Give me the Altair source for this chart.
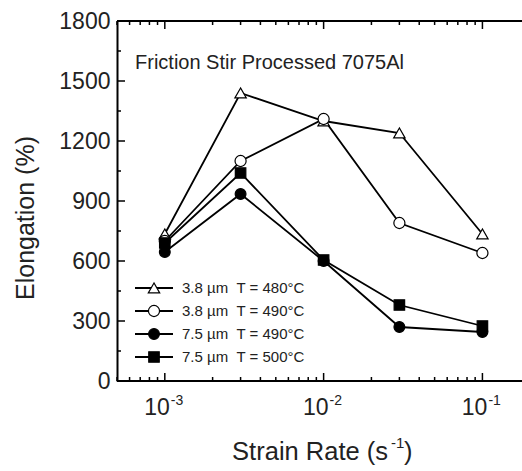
import altair as alt
import pandas as pd

# ---- data ----
strain_rate = [1e-3, 3e-3, 1e-2, 3e-2, 1e-1]
series_names = ["3.8 µm\u00a0\u00a0T = 480°C", "3.8 µm\u00a0\u00a0T = 490°C",
                "7.5 µm\u00a0\u00a0T = 490°C", "7.5 µm\u00a0\u00a0T = 500°C"]
elong_38_480 = [735, 1440, 1300, 1240, 735]
elong_38_490 = [700, 1100, 1310, 790, 640]
elong_75_490 = [645, 935, 600, 270, 245]
elong_75_500 = [690, 1040, 605, 380, 275]

x_major = [1e-3, 1e-2, 1e-1]
x_minor = [5e-4, 6e-4, 7e-4, 8e-4, 9e-4,
           2e-3, 3e-3, 4e-3, 5e-3, 6e-3, 7e-3, 8e-3, 9e-3,
           2e-2, 3e-2, 4e-2, 5e-2, 6e-2, 7e-2, 8e-2, 9e-2]
x_exponents = ["-3", "-2", "-1"]
y_major = [0, 300, 600, 900, 1200, 1500, 1800]
y_minor = [150, 450, 750, 1050, 1350, 1650]

shapes = ["triangle-up", "circle", "circle", "square"]
fills = ["white", "white", "black", "black"]
sizes = [130, 110, 95, 95]

W, H = 405, 360
FONT = "Liberation Sans"

rows = []
for name, vals in zip(series_names,
                      [elong_38_480, elong_38_490, elong_75_490, elong_75_500]):
    for xv, yv in zip(strain_rate, vals):
        rows.append({"series": name, "rate": xv, "elong": yv})
df = pd.DataFrame(rows)

xscale = alt.Scale(type="log", domain=[5e-4, 0.1775], nice=False)
yscale = alt.Scale(domain=[0, 1800], nice=False)
shape_scale = alt.Scale(domain=series_names, range=shapes)
fill_scale = alt.Scale(domain=series_names, range=fills)
size_scale = alt.Scale(domain=series_names, range=sizes)

X = alt.X("rate:Q", scale=xscale, axis=None)
Y = alt.Y("elong:Q", scale=yscale,
          axis=alt.Axis(values=y_major, format="d", ticks=False, tickSize=0,
                        grid=False, domain=True, domainColor="black",
                        domainWidth=2, labelFontSize=23, labelFont=FONT,
                        labelColor="#222", labelPadding=7, title=None))

lines = alt.Chart(df).mark_line(color="black", strokeWidth=1.8).encode(
    x=X, y=Y, detail="series:N")

points = alt.Chart(df).mark_point(filled=False, stroke="black", strokeWidth=1.2,
                                  opacity=1).encode(
    x=X, y=Y,
    shape=alt.Shape("series:N", scale=shape_scale, legend=None),
    fill=alt.Fill("series:N", scale=fill_scale, legend=None),
    size=alt.Size("series:N", scale=size_scale, legend=None),
)

# frame lines (top and bottom)
top_rule = alt.Chart(pd.DataFrame({"a": [0]})).mark_rule(
    color="black", strokeWidth=2).encode(
    x=alt.value(0), x2=alt.value(W), y=alt.value(0))
bottom_rule = alt.Chart(pd.DataFrame({"a": [0]})).mark_rule(
    color="black", strokeWidth=2).encode(
    x=alt.value(0), x2=alt.value(W), y=alt.value(H))

# inward ticks
xmaj_df = pd.DataFrame({"rate": x_major, "exp": x_exponents})
xmin_df = pd.DataFrame({"rate": x_minor})
ymaj_df = pd.DataFrame({"elong": y_major})
ymin_df = pd.DataFrame({"elong": y_minor})

def xticks(d, length):
    b = alt.Chart(d).mark_rule(color="black", strokeWidth=1.5).encode(
        x=X, y=alt.value(H), y2=alt.value(H - length))
    t = alt.Chart(d).mark_rule(color="black", strokeWidth=1.5).encode(
        x=X, y=alt.value(0), y2=alt.value(length))
    return b + t

def yticks(d, length):
    return alt.Chart(d).mark_rule(color="black", strokeWidth=1.5).encode(
        y=Y, x=alt.value(0), x2=alt.value(length))

ticks = xticks(xmaj_df, 8) + xticks(xmin_df, 4) + yticks(ymaj_df, 8) + yticks(ymin_df, 4)

# x tick labels "10" with superscript exponent
xlab_base = alt.Chart(xmaj_df).mark_text(
    text="10", align="right", baseline="alphabetic", fontSize=23, font=FONT,
    color="#222", dx=5).encode(x=X, y=alt.value(H + 34))
xlab_exp = alt.Chart(xmaj_df).mark_text(
    align="left", baseline="alphabetic", fontSize=14, font=FONT,
    color="#222", dx=6).encode(x=X, y=alt.value(H + 24), text="exp:N")

# axis titles
xt1 = alt.Chart(pd.DataFrame({"t": ["Strain Rate (s"]})).mark_text(
    align="right", baseline="alphabetic", fontSize=25.5, font=FONT, color="#222").encode(
    x=alt.value(271), y=alt.value(H + 79), text="t:N")
xt2 = alt.Chart(pd.DataFrame({"t": ["-1"]})).mark_text(
    align="left", baseline="alphabetic", fontSize=15, font=FONT, color="#222").encode(
    x=alt.value(274), y=alt.value(H + 67), text="t:N")
xt3 = alt.Chart(pd.DataFrame({"t": [")"]})).mark_text(
    align="left", baseline="alphabetic", fontSize=25.5, font=FONT, color="#222").encode(
    x=alt.value(287), y=alt.value(H + 79), text="t:N")
ytitle = alt.Chart(pd.DataFrame({"t": ["Elongation (%)"]})).mark_text(
    angle=270, align="center", baseline="middle", fontSize=25, font=FONT,
    color="#222").encode(x=alt.value(-91), y=alt.value(197), text="t:N")

annot = alt.Chart(pd.DataFrame({"t": ["Friction Stir Processed 7075Al"]})).mark_text(
    align="left", baseline="middle", fontSize=20, font=FONT, color="#222").encode(
    x=alt.value(18), y=alt.value(42), text="t:N")

# manual legend
leg_df = pd.DataFrame({"series": series_names, "idx": [0, 1, 2, 3]})
LY = alt.Y("idx:Q", scale=alt.Scale(domain=[0, 3], range=[267, 336]), axis=None)
leg_line = alt.Chart(leg_df).mark_rule(color="black", strokeWidth=1.8).encode(
    y=LY, x=alt.value(18), x2=alt.value(56))
leg_pt = alt.Chart(leg_df).mark_point(filled=False, stroke="black", strokeWidth=1.2,
                                      opacity=1).encode(
    y=LY, x=alt.value(37),
    shape=alt.Shape("series:N", scale=shape_scale, legend=None),
    fill=alt.Fill("series:N", scale=fill_scale, legend=None),
    size=alt.Size("series:N", scale=size_scale, legend=None))
leg_txt = alt.Chart(leg_df).mark_text(
    align="left", baseline="middle", fontSize=15, font=FONT, color="#222").encode(
    y=LY, x=alt.value(65), text="series:N")
legend = alt.layer(leg_line, leg_pt, leg_txt)

main = alt.layer(ticks, top_rule, bottom_rule, lines, points,
                 xlab_base, xlab_exp, xt1, xt2, xt3, ytitle, annot)

chart = alt.layer(main, legend).resolve_scale(y="independent").properties(
    width=W, height=H,
    padding={"left": 117, "top": 21, "right": 0, "bottom": 90},
    autosize=alt.AutoSizeParams(type="none"),
    background="white",
).configure_view(strokeWidth=0)

chart.save("out.html", embed_options={"renderer": "svg", "actions": False})
